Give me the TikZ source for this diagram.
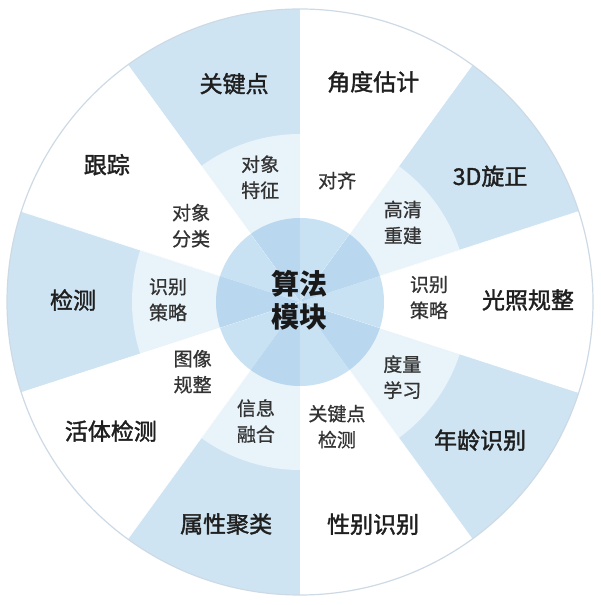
\documentclass[tikz,border=0pt]{standalone}
\usepackage{fontspec}
\setmainfont{Noto Sans CJK SC}
\newfontfamily\heavycjk[FakeBold=1.6]{Noto Sans CJK SC}
\newfontfamily\midcjk[FakeBold=0.8]{Noto Sans CJK SC}
\usepackage{xcolor}
\usepackage{tikz}

\definecolor{wheelblue}{HTML}{CFE4F3}
\definecolor{ringblue}{HTML}{E9F3FA}
\definecolor{hubdark}{HTML}{B9D8EF}
\definecolor{hublight}{HTML}{C8E2F4}
\definecolor{rimgray}{HTML}{CDDAE5}

\begin{document}
\begin{tikzpicture}[x=1pt, y=1pt]
    \tikzstyle{divider} = [draw=white, line width=0.6pt]
    \tikzstyle{outerlabel} = [font=\heavycjk\fontsize{23}{27}\selectfont, text=black!88]
    \tikzstyle{innerlabel} = [font=\midcjk\fontsize{19}{26}\selectfont, text=black!80, align=center]
    \tikzstyle{hublabel} = [font=\fontsize{28}{33}\selectfont\bfseries, text=black!90, align=center]

    \useasboundingbox (0,0) rectangle (600,605);
    \coordinate (c) at (300,303);

    \foreach \a/\outcol/\ringcol/\hubcol in {90/wheelblue/ringblue/hubdark, 126/white/white/hublight,
        162/wheelblue/ringblue/hubdark, 198/white/white/hublight, 234/wheelblue/ringblue/hubdark,
        270/white/white/hublight, 306/wheelblue/ringblue/hubdark, 342/white/white/hublight,
        378/wheelblue/ringblue/hubdark, 414/white/white/hublight} {
        \fill[\outcol] (c) -- ++(\a:293) arc[start angle=\a, delta angle=36, radius=293] -- cycle;
        \fill[\ringcol] (c) -- ++(\a:168) arc[start angle=\a, delta angle=36, radius=168] -- cycle;
        \fill[\hubcol] (c) -- ++(\a:84) arc[start angle=\a, delta angle=36, radius=84] -- cycle;
    }
    \foreach \a in {90,126,...,414}
        \draw[divider] ([shift={(\a:84)}]c) -- ++(\a:209);
    \draw[rimgray, line width=1.2pt] (c) circle (293);

    \foreach \i/\a/\r/\txt in {1/106.8/228/关键点, 2/71.6/232/角度估计, 3/33.5/228/3D旋正,
        4/0.5/228/光照规整, 5/322.5/227/年龄识别, 6/288.2/234/性别识别, 7/251.6/234/属性聚类,
        8/214.3/229/活体检测, 9/179.5/227/检测, 10/144.6/237/跟踪}
        \node[outerlabel] (out\i) at ([shift={(\a:\r)}]c) {\txt};

    \foreach \i/\a/\r/\txt in {1/107.7/131/{对象\\特征}, 2/73/127/{对齐}, 3/37.7/130/{高清\\重建},
        4/2/129/{识别\\策略}, 5/323.7/127/{度量\\学习}, 6/286.5/130/{关键点\\检测},
        7/249.7/127/{信息\\融合}, 8/213/128/{图像\\规整}, 9/179/132/{识别\\策略},
        10/145/133/{对象\\分类}}
        \node[innerlabel] (in\i) at ([shift={(\a:\r)}]c) {\txt};

    \node[hublabel] (hub) at ([shift={(-1,2)}]c) {算法\\模块};
\end{tikzpicture}
\end{document}
